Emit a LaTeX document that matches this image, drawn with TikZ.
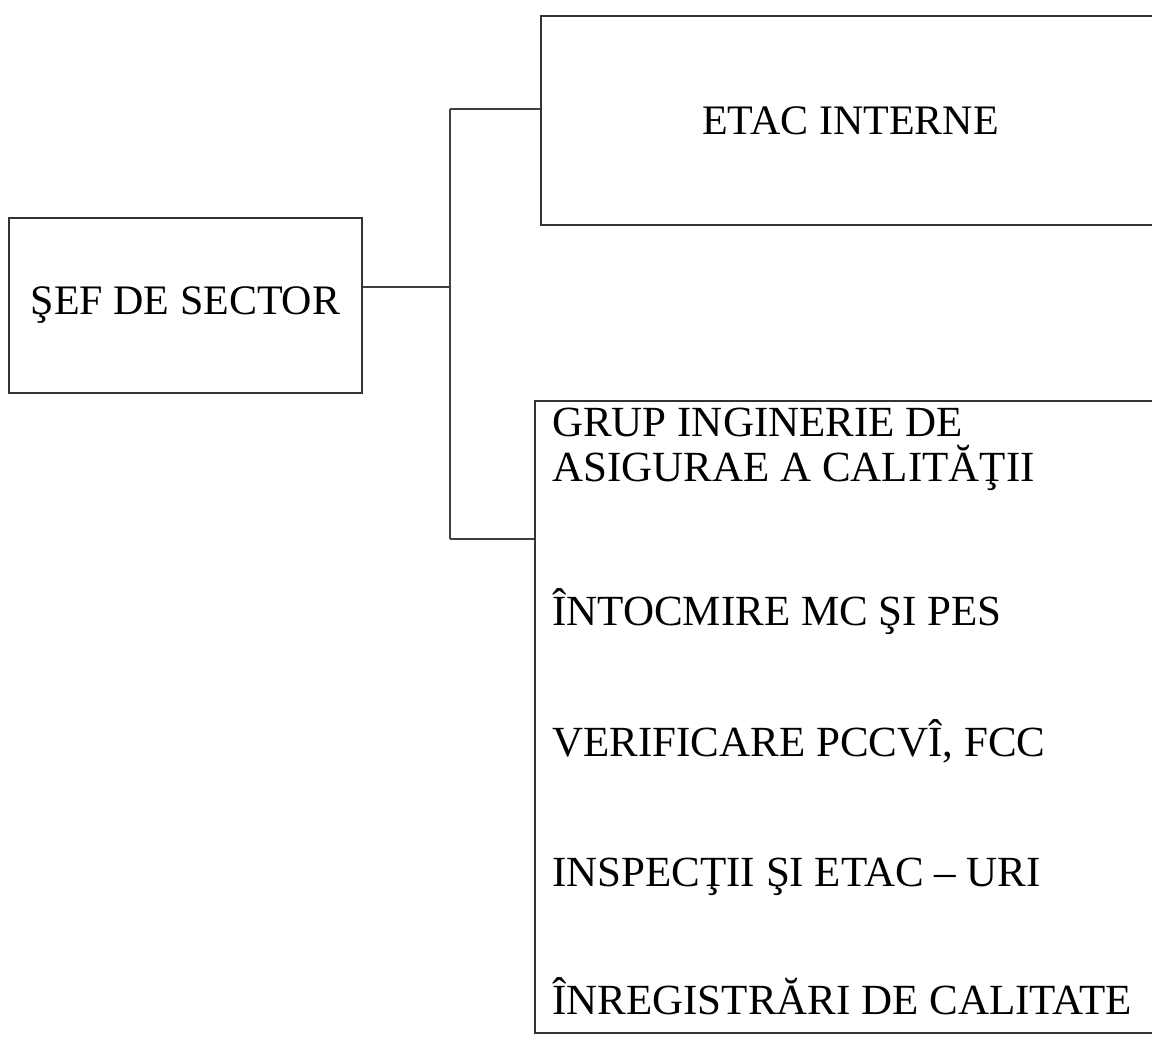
\documentclass[tikz,border=0pt]{standalone}
\usepackage{fontspec}
\setmainfont{Liberation Serif}
\begin{document}
\begin{tikzpicture}[x=1pt,y=-1pt,
        box/.style={draw=black!80,line width=1.4pt,inner sep=0pt,font=\fontsize{42}{45}\selectfont},
        txt/.style={anchor=base west,inner sep=0pt,font=\fontsize{43}{45}\selectfont},
        every edge/.style={draw=black!75,line width=1.4pt}]
            \useasboundingbox (0,0) rectangle (1152,1038);
            \node (A) [box,minimum width=353pt,minimum height=175pt] at (185.5,305.5) {ŞEF DE SECTOR};
            \node (B) [box,minimum width=619pt,minimum height=209pt] at (850.5,120.5) {ETAC INTERNE};
            \node (C) [box,minimum width=625pt,minimum height=632pt] at (847.5,717) {};
            \node (C1) [txt] at (552,436) {GRUP INGINERIE DE};
            \node (C2) [txt] at (552,481) {ASIGURAE A CALITĂŢII};
            \node (C3) [txt] at (552,625) {ÎNTOCMIRE MC ŞI PES};
            \node (C4) [txt] at (552,756) {VERIFICARE PCCVÎ, FCC};
            \node (C5) [txt] at (552,886) {INSPECŢII ŞI ETAC – URI};
            \node (C6) [txt] at (552,1014) {ÎNREGISTRĂRI DE CALITATE};
            \coordinate (J) at (450,287);
            \coordinate (JB) at (450,109);
            \coordinate (JC) at (450,539);
            \path (A.east |- J) edge (J)
                (JB) edge (JC)
                (JB) edge (B.west |- JB)
                (JC) edge (C.west |- JC);
        \end{tikzpicture}
\end{document}
